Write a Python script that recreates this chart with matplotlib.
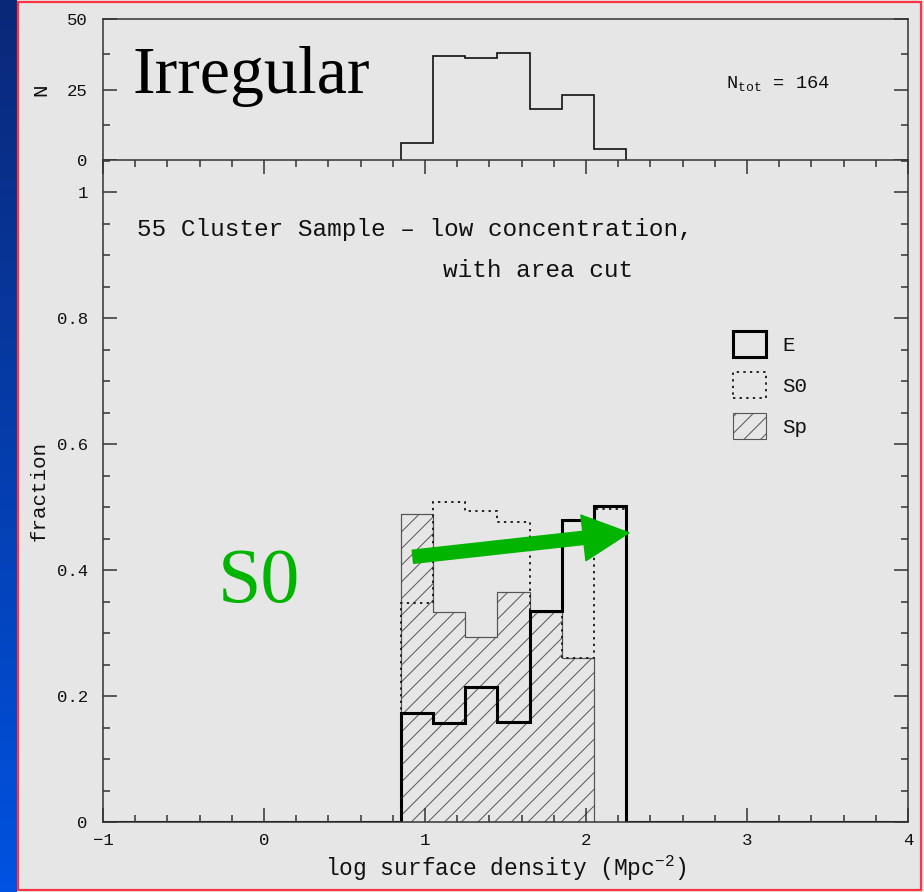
import numpy as np
import matplotlib
matplotlib.use("Agg")
import matplotlib.pyplot as plt
from matplotlib.patches import Patch, FancyArrowPatch, Rectangle
from matplotlib.ticker import MultipleLocator

# данные
bin_edges = [0.85, 1.05, 1.25, 1.45, 1.65, 1.85, 2.05, 2.25]
n_counts = [6, 37, 36, 38, 18, 23, 4]
frac_E = [0.173, 0.157, 0.215, 0.158, 0.335, 0.480, 0.502]
frac_S0 = [0.348, 0.508, 0.493, 0.476, 0.333, 0.260, 0.497]
frac_Sp = [0.489, 0.333, 0.293, 0.365, 0.333, 0.260, 0.0]
x_range = (-1, 4)
n_tot = 164
arrow_from = (0.925, 0.421)
arrow_to = (2.267, 0.459)

mono = "Liberation Mono"
plt.rcParams["font.family"] = mono
plt.rcParams["mathtext.fontset"] = "custom"
plt.rcParams["mathtext.rm"] = mono
plt.rcParams["mathtext.it"] = mono
plt.rcParams["hatch.linewidth"] = 0.7
plt.rcParams["hatch.color"] = "#444444"

bg = "#e6e6e6"
ink = "#111111"
green = "#00b400"

fig = plt.figure(figsize=(9.24, 8.92), dpi=100, facecolor=bg)

# синяя полоса слева и красная рамка
strip = fig.add_axes([0, 0, 17 / 924, 1])
strip.imshow(np.linspace(0, 1, 100).reshape(-1, 1), aspect="auto",
             cmap=matplotlib.colors.LinearSegmentedColormap.from_list("b", ["#0a2878", "#0052e0"]),
             extent=[0, 1, 0, 1], origin="upper")
strip.axis("off")
fig.patches.append(Rectangle((18 / 924, 2 / 892), 903 / 924, 888 / 892, transform=fig.transFigure,
                             fill=False, ec="#ff3344", lw=1.6))

left, width = 103 / 924, 805 / 924
ax_top = fig.add_axes([left, 1 - 160 / 892, width, 141 / 892], facecolor=bg)
ax = fig.add_axes([left, 1 - 822 / 892, width, 662 / 892], facecolor=bg, sharex=ax_top)

for a in (ax, ax_top):
    for s in a.spines.values():
        s.set_color("#333333")
        s.set_linewidth(1.1)
    a.tick_params(which="both", direction="in", colors="#333333", labelcolor=ink,
                  labelsize=12.5, width=1.1)
    a.tick_params(which="major", length=10)
    a.tick_params(which="minor", length=5)

# верхняя панель: число галактик
edges_np = np.array(bin_edges)
ax_top.stairs(n_counts, edges_np, color="#111111", lw=1.2, baseline=0)
ax_top.set_ylim(0, 50)
ax_top.set_yticks([0, 25, 50])
ax_top.yaxis.set_minor_locator(MultipleLocator(12.5))
ax_top.tick_params(axis="y", which="both", left=True, right=True, pad=11)
ax_top.tick_params(axis="x", which="both", bottom=False, top=False, labelbottom=False)
ax_top.spines["bottom"].set_visible(False)
ax_top.set_ylabel("N", fontsize=15, labelpad=12, color=ink)
ax_top.text(0.037, 0.59, "Irregular", transform=ax_top.transAxes, fontsize=49,
            family="Liberation Serif", va="center", ha="left", color="black")
ax_top.text(2.87, 27, r"N$_{\rm tot}$ = %d" % n_tot, fontsize=13.5, color=ink,
            va="center", ha="left")

# нижняя панель: доли
pad_edges = np.concatenate([[x_range[0]], edges_np, [x_range[1]]])
ax.stairs(frac_Sp, edges_np, fill=True, facecolor="none", hatch="//",
          edgecolor="#555555", lw=0.8)
ax.stairs(frac_Sp, edges_np, color="#555555", lw=0.8, baseline=0)
ax.stairs(frac_S0, edges_np, color="#222222", lw=1.4, ls=(0, (1.2, 2.2)), baseline=0)
ax.stairs([0] + frac_E + [0], pad_edges, color="black", lw=2.2, baseline=0)

ax.set_xlim(*x_range)
ax.set_ylim(0, 1.0508)
ax.xaxis.set_major_locator(MultipleLocator(1))
ax.xaxis.set_minor_locator(MultipleLocator(0.2))
ax.yaxis.set_major_locator(MultipleLocator(0.2))
ax.yaxis.set_minor_locator(MultipleLocator(0.05))
ax.set_yticks([0, 0.2, 0.4, 0.6, 0.8, 1])
ax.set_yticklabels(["0", "0.2", "0.4", "0.6", "0.8", "1"])
ax.set_xticks([-1, 0, 1, 2, 3, 4])
ax.set_xticklabels(["\u22121", "0", "1", "2", "3", "4"])
ax.tick_params(which="both", top=True, right=True)
ax.tick_params(axis="y", pad=11)
ax.tick_params(axis="x", pad=8)
ax.set_xlabel(r"log surface density (Mpc$^{-2}$)", fontsize=16.5, labelpad=4, color=ink)
ax.set_ylabel("fraction", fontsize=15, labelpad=6, color=ink)

ax.text(-0.79, 0.941, "55 Cluster Sample \u2013 low concentration,", fontsize=17.6,
        va="center", ha="left", color=ink)
ax.text(1.11, 0.876, "with area cut", fontsize=17.6, va="center", ha="left", color=ink)

handles = [Patch(facecolor="none", edgecolor="black", lw=2.2, label="E"),
           Patch(facecolor="none", edgecolor="#222222", lw=1.4, ls=(0, (1.2, 2.2)), label="S0"),
           Patch(facecolor="none", edgecolor="#555555", lw=0.8, hatch="//", label="Sp")]
ax.legend(handles=handles, loc="upper left", bbox_to_anchor=(0.7826, 0.742), frameon=False,
          fontsize=15, handlelength=1.6, handleheight=1.55, labelspacing=0.72,
          handletextpad=0.75, borderpad=0, borderaxespad=0, labelcolor=ink)

# зелёная стрелка и подпись
ax.add_patch(FancyArrowPatch(arrow_from, arrow_to,
                             arrowstyle="simple,head_length=3.3,head_width=3.3,tail_width=0.95",
                             mutation_scale=10, color=green, shrinkA=0, shrinkB=0, zorder=5))
ax.text(-0.03, 0.379, "S0", fontsize=56, family="Liberation Serif", color=green,
        va="center", ha="center")

fig.savefig("out.png", dpi=100, facecolor=bg)
